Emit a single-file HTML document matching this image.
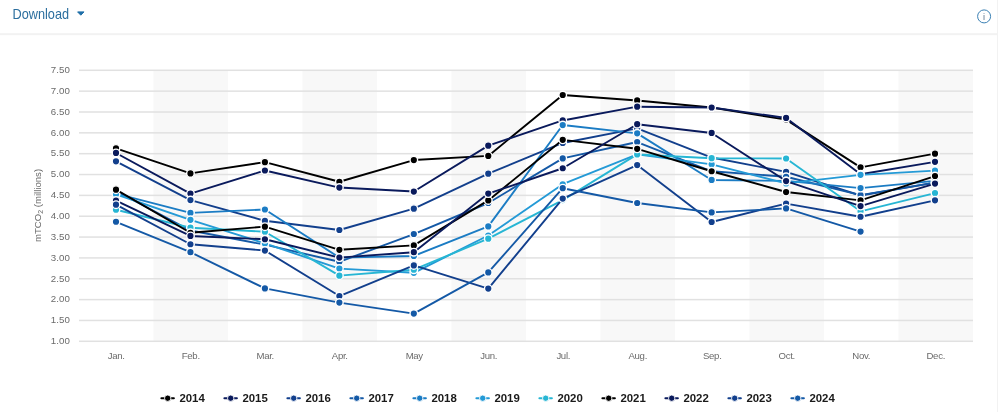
<!DOCTYPE html>
<html><head><meta charset="utf-8"><title>Chart</title>
<style>html,body{margin:0;padding:0;background:#fff;}body{width:1000px;height:412px;overflow:hidden;}svg{display:block;font-family:"Liberation Sans",sans-serif;}</style></head><body>
<svg width="1000" height="412" viewBox="0 0 1000 412">
<rect x="0" y="0" width="1000" height="412" fill="#ffffff"/>
<rect x="0" y="33.2" width="998" height="2" fill="#f2f2f2"/>
<rect x="997" y="0" width="1" height="412" fill="#f2f2f2"/>
<text x="12.5" y="19" font-size="14.3" textLength="56.6" lengthAdjust="spacingAndGlyphs" fill="#2b6e9e">Download</text>
<path d="M77.6 11.9 L84.0 11.9 L80.8 15.2 Z" fill="#1f6fa8" stroke="#1f6fa8" stroke-width="1" stroke-linejoin="round"/>
<circle cx="984.1" cy="16.4" r="6.5" fill="#fff" stroke="#3a80b4" stroke-width="1"/>
<text x="984.1" y="20.4" font-size="9.2" text-anchor="middle" fill="#5f7890">i</text>
<rect x="153.50" y="70.3" width="74.50" height="271.0" fill="#f8f8f8"/>
<rect x="302.50" y="70.3" width="74.50" height="271.0" fill="#f8f8f8"/>
<rect x="451.50" y="70.3" width="74.50" height="271.0" fill="#f8f8f8"/>
<rect x="600.50" y="70.3" width="74.50" height="271.0" fill="#f8f8f8"/>
<rect x="749.50" y="70.3" width="74.50" height="271.0" fill="#f8f8f8"/>
<rect x="898.50" y="70.3" width="74.50" height="271.0" fill="#f8f8f8"/>
<rect x="79.0" y="340.55" width="894.0" height="1.5" fill="#e1e1e1"/>
<text x="70" y="344.10" font-size="9.7" letter-spacing="0.1" text-anchor="end" fill="#6b6b6b">1.00</text>
<rect x="79.0" y="319.70" width="894.0" height="1.5" fill="#e1e1e1"/>
<text x="70" y="323.25" font-size="9.7" letter-spacing="0.1" text-anchor="end" fill="#6b6b6b">1.50</text>
<rect x="79.0" y="298.86" width="894.0" height="1.5" fill="#e1e1e1"/>
<text x="70" y="302.41" font-size="9.7" letter-spacing="0.1" text-anchor="end" fill="#6b6b6b">2.00</text>
<rect x="79.0" y="278.01" width="894.0" height="1.5" fill="#e1e1e1"/>
<text x="70" y="281.56" font-size="9.7" letter-spacing="0.1" text-anchor="end" fill="#6b6b6b">2.50</text>
<rect x="79.0" y="257.17" width="894.0" height="1.5" fill="#e1e1e1"/>
<text x="70" y="260.72" font-size="9.7" letter-spacing="0.1" text-anchor="end" fill="#6b6b6b">3.00</text>
<rect x="79.0" y="236.32" width="894.0" height="1.5" fill="#e1e1e1"/>
<text x="70" y="239.87" font-size="9.7" letter-spacing="0.1" text-anchor="end" fill="#6b6b6b">3.50</text>
<rect x="79.0" y="215.47" width="894.0" height="1.5" fill="#e1e1e1"/>
<text x="70" y="219.02" font-size="9.7" letter-spacing="0.1" text-anchor="end" fill="#6b6b6b">4.00</text>
<rect x="79.0" y="194.63" width="894.0" height="1.5" fill="#e1e1e1"/>
<text x="70" y="198.18" font-size="9.7" letter-spacing="0.1" text-anchor="end" fill="#6b6b6b">4.50</text>
<rect x="79.0" y="173.78" width="894.0" height="1.5" fill="#e1e1e1"/>
<text x="70" y="177.33" font-size="9.7" letter-spacing="0.1" text-anchor="end" fill="#6b6b6b">5.00</text>
<rect x="79.0" y="152.93" width="894.0" height="1.5" fill="#e1e1e1"/>
<text x="70" y="156.48" font-size="9.7" letter-spacing="0.1" text-anchor="end" fill="#6b6b6b">5.50</text>
<rect x="79.0" y="132.09" width="894.0" height="1.5" fill="#e1e1e1"/>
<text x="70" y="135.64" font-size="9.7" letter-spacing="0.1" text-anchor="end" fill="#6b6b6b">6.00</text>
<rect x="79.0" y="111.24" width="894.0" height="1.5" fill="#e1e1e1"/>
<text x="70" y="114.79" font-size="9.7" letter-spacing="0.1" text-anchor="end" fill="#6b6b6b">6.50</text>
<rect x="79.0" y="90.40" width="894.0" height="1.5" fill="#e1e1e1"/>
<text x="70" y="93.95" font-size="9.7" letter-spacing="0.1" text-anchor="end" fill="#6b6b6b">7.00</text>
<rect x="79.0" y="69.55" width="894.0" height="1.5" fill="#e1e1e1"/>
<text x="70" y="73.10" font-size="9.7" letter-spacing="0.1" text-anchor="end" fill="#6b6b6b">7.50</text>
<text transform="translate(41,205.5) rotate(-90)" font-size="9.6" text-anchor="middle" fill="#6b6b6b">mTCO<tspan font-size="7" dy="2">2</tspan><tspan dy="-2"> (millions)</tspan></text>
<text x="116.25" y="359.4" font-size="9.6" letter-spacing="-0.3" text-anchor="middle" fill="#6b6b6b">Jan.</text>
<text x="190.75" y="359.4" font-size="9.6" letter-spacing="-0.3" text-anchor="middle" fill="#6b6b6b">Feb.</text>
<text x="265.25" y="359.4" font-size="9.6" letter-spacing="-0.3" text-anchor="middle" fill="#6b6b6b">Mar.</text>
<text x="339.75" y="359.4" font-size="9.6" letter-spacing="-0.3" text-anchor="middle" fill="#6b6b6b">Apr.</text>
<text x="414.25" y="359.4" font-size="9.6" letter-spacing="-0.3" text-anchor="middle" fill="#6b6b6b">May</text>
<text x="488.75" y="359.4" font-size="9.6" letter-spacing="-0.3" text-anchor="middle" fill="#6b6b6b">Jun.</text>
<text x="563.25" y="359.4" font-size="9.6" letter-spacing="-0.3" text-anchor="middle" fill="#6b6b6b">Jul.</text>
<text x="637.75" y="359.4" font-size="9.6" letter-spacing="-0.3" text-anchor="middle" fill="#6b6b6b">Aug.</text>
<text x="712.25" y="359.4" font-size="9.6" letter-spacing="-0.3" text-anchor="middle" fill="#6b6b6b">Sep.</text>
<text x="786.75" y="359.4" font-size="9.6" letter-spacing="-0.3" text-anchor="middle" fill="#6b6b6b">Oct.</text>
<text x="861.25" y="359.4" font-size="9.6" letter-spacing="-0.3" text-anchor="middle" fill="#6b6b6b">Nov.</text>
<text x="935.75" y="359.4" font-size="9.6" letter-spacing="-0.3" text-anchor="middle" fill="#6b6b6b">Dec.</text>
<g><polyline points="116.00,148.38 190.45,173.40 264.91,162.14 339.37,181.74 413.82,160.06 488.27,155.89 562.73,95.02 637.18,100.44 711.64,107.52 786.10,119.61 860.55,167.35 935.00,153.63" fill="none" stroke="#000000" stroke-width="1.9" stroke-linejoin="round" stroke-linecap="round"/>
<circle cx="116.00" cy="148.38" r="3.8" fill="#000000" stroke="#fff" stroke-width="1.4"/>
<circle cx="190.45" cy="173.40" r="3.8" fill="#000000" stroke="#fff" stroke-width="1.4"/>
<circle cx="264.91" cy="162.14" r="3.8" fill="#000000" stroke="#fff" stroke-width="1.4"/>
<circle cx="339.37" cy="181.74" r="3.8" fill="#000000" stroke="#fff" stroke-width="1.4"/>
<circle cx="413.82" cy="160.06" r="3.8" fill="#000000" stroke="#fff" stroke-width="1.4"/>
<circle cx="488.27" cy="155.89" r="3.8" fill="#000000" stroke="#fff" stroke-width="1.4"/>
<circle cx="562.73" cy="95.02" r="3.8" fill="#000000" stroke="#fff" stroke-width="1.4"/>
<circle cx="637.18" cy="100.44" r="3.8" fill="#000000" stroke="#fff" stroke-width="1.4"/>
<circle cx="711.64" cy="107.52" r="3.8" fill="#000000" stroke="#fff" stroke-width="1.4"/>
<circle cx="786.10" cy="119.61" r="3.8" fill="#000000" stroke="#fff" stroke-width="1.4"/>
<circle cx="860.55" cy="167.35" r="3.8" fill="#000000" stroke="#fff" stroke-width="1.4"/>
<circle cx="935.00" cy="153.63" r="3.8" fill="#000000" stroke="#fff" stroke-width="1.4"/>
</g>
<g><polyline points="116.00,152.97 190.45,193.62 264.91,170.48 339.37,187.57 413.82,191.53 488.27,145.63 562.73,120.45 637.18,106.69 711.64,107.52 786.10,117.95 860.55,174.23 935.00,161.85" fill="none" stroke="#0a1a5c" stroke-width="1.9" stroke-linejoin="round" stroke-linecap="round"/>
<circle cx="116.00" cy="152.97" r="3.8" fill="#0a1a5c" stroke="#fff" stroke-width="1.4"/>
<circle cx="190.45" cy="193.62" r="3.8" fill="#0a1a5c" stroke="#fff" stroke-width="1.4"/>
<circle cx="264.91" cy="170.48" r="3.8" fill="#0a1a5c" stroke="#fff" stroke-width="1.4"/>
<circle cx="339.37" cy="187.57" r="3.8" fill="#0a1a5c" stroke="#fff" stroke-width="1.4"/>
<circle cx="413.82" cy="191.53" r="3.8" fill="#0a1a5c" stroke="#fff" stroke-width="1.4"/>
<circle cx="488.27" cy="145.63" r="3.8" fill="#0a1a5c" stroke="#fff" stroke-width="1.4"/>
<circle cx="562.73" cy="120.45" r="3.8" fill="#0a1a5c" stroke="#fff" stroke-width="1.4"/>
<circle cx="637.18" cy="106.69" r="3.8" fill="#0a1a5c" stroke="#fff" stroke-width="1.4"/>
<circle cx="711.64" cy="107.52" r="3.8" fill="#0a1a5c" stroke="#fff" stroke-width="1.4"/>
<circle cx="786.10" cy="117.95" r="3.8" fill="#0a1a5c" stroke="#fff" stroke-width="1.4"/>
<circle cx="860.55" cy="174.23" r="3.8" fill="#0a1a5c" stroke="#fff" stroke-width="1.4"/>
<circle cx="935.00" cy="161.85" r="3.8" fill="#0a1a5c" stroke="#fff" stroke-width="1.4"/>
</g>
<g><polyline points="116.00,161.31 190.45,200.08 264.91,220.80 339.37,230.02 413.82,208.63 488.27,173.65 562.73,142.96 637.18,128.37 711.64,157.55 786.10,171.85 860.55,195.49 935.00,182.57" fill="none" stroke="#123f8c" stroke-width="1.9" stroke-linejoin="round" stroke-linecap="round"/>
<circle cx="116.00" cy="161.31" r="3.8" fill="#123f8c" stroke="#fff" stroke-width="1.4"/>
<circle cx="190.45" cy="200.08" r="3.8" fill="#123f8c" stroke="#fff" stroke-width="1.4"/>
<circle cx="264.91" cy="220.80" r="3.8" fill="#123f8c" stroke="#fff" stroke-width="1.4"/>
<circle cx="339.37" cy="230.02" r="3.8" fill="#123f8c" stroke="#fff" stroke-width="1.4"/>
<circle cx="413.82" cy="208.63" r="3.8" fill="#123f8c" stroke="#fff" stroke-width="1.4"/>
<circle cx="488.27" cy="173.65" r="3.8" fill="#123f8c" stroke="#fff" stroke-width="1.4"/>
<circle cx="562.73" cy="142.96" r="3.8" fill="#123f8c" stroke="#fff" stroke-width="1.4"/>
<circle cx="637.18" cy="128.37" r="3.8" fill="#123f8c" stroke="#fff" stroke-width="1.4"/>
<circle cx="711.64" cy="157.55" r="3.8" fill="#123f8c" stroke="#fff" stroke-width="1.4"/>
<circle cx="786.10" cy="171.85" r="3.8" fill="#123f8c" stroke="#fff" stroke-width="1.4"/>
<circle cx="860.55" cy="195.49" r="3.8" fill="#123f8c" stroke="#fff" stroke-width="1.4"/>
<circle cx="935.00" cy="182.57" r="3.8" fill="#123f8c" stroke="#fff" stroke-width="1.4"/>
</g>
<g><polyline points="116.00,190.91 190.45,230.52 264.91,244.69 339.37,261.78 413.82,234.02 488.27,203.00 562.73,158.43 637.18,142.04 711.64,171.31 786.10,176.73 860.55,195.08 935.00,182.57" fill="none" stroke="#1459a6" stroke-width="1.9" stroke-linejoin="round" stroke-linecap="round"/>
<circle cx="116.00" cy="190.91" r="3.8" fill="#1459a6" stroke="#fff" stroke-width="1.4"/>
<circle cx="190.45" cy="230.52" r="3.8" fill="#1459a6" stroke="#fff" stroke-width="1.4"/>
<circle cx="264.91" cy="244.69" r="3.8" fill="#1459a6" stroke="#fff" stroke-width="1.4"/>
<circle cx="339.37" cy="261.78" r="3.8" fill="#1459a6" stroke="#fff" stroke-width="1.4"/>
<circle cx="413.82" cy="234.02" r="3.8" fill="#1459a6" stroke="#fff" stroke-width="1.4"/>
<circle cx="488.27" cy="203.00" r="3.8" fill="#1459a6" stroke="#fff" stroke-width="1.4"/>
<circle cx="562.73" cy="158.43" r="3.8" fill="#1459a6" stroke="#fff" stroke-width="1.4"/>
<circle cx="637.18" cy="142.04" r="3.8" fill="#1459a6" stroke="#fff" stroke-width="1.4"/>
<circle cx="711.64" cy="171.31" r="3.8" fill="#1459a6" stroke="#fff" stroke-width="1.4"/>
<circle cx="786.10" cy="176.73" r="3.8" fill="#1459a6" stroke="#fff" stroke-width="1.4"/>
<circle cx="860.55" cy="195.08" r="3.8" fill="#1459a6" stroke="#fff" stroke-width="1.4"/>
<circle cx="935.00" cy="182.57" r="3.8" fill="#1459a6" stroke="#fff" stroke-width="1.4"/>
</g>
<g><polyline points="116.00,193.62 190.45,212.92 264.91,209.50 339.37,257.62 413.82,255.95 488.27,226.43 562.73,125.03 637.18,133.37 711.64,179.94 786.10,180.90 860.55,188.11 935.00,180.90" fill="none" stroke="#1b7cc4" stroke-width="1.9" stroke-linejoin="round" stroke-linecap="round"/>
<circle cx="116.00" cy="193.62" r="3.8" fill="#1b7cc4" stroke="#fff" stroke-width="1.4"/>
<circle cx="190.45" cy="212.92" r="3.8" fill="#1b7cc4" stroke="#fff" stroke-width="1.4"/>
<circle cx="264.91" cy="209.50" r="3.8" fill="#1b7cc4" stroke="#fff" stroke-width="1.4"/>
<circle cx="339.37" cy="257.62" r="3.8" fill="#1b7cc4" stroke="#fff" stroke-width="1.4"/>
<circle cx="413.82" cy="255.95" r="3.8" fill="#1b7cc4" stroke="#fff" stroke-width="1.4"/>
<circle cx="488.27" cy="226.43" r="3.8" fill="#1b7cc4" stroke="#fff" stroke-width="1.4"/>
<circle cx="562.73" cy="125.03" r="3.8" fill="#1b7cc4" stroke="#fff" stroke-width="1.4"/>
<circle cx="637.18" cy="133.37" r="3.8" fill="#1b7cc4" stroke="#fff" stroke-width="1.4"/>
<circle cx="711.64" cy="179.94" r="3.8" fill="#1b7cc4" stroke="#fff" stroke-width="1.4"/>
<circle cx="786.10" cy="180.90" r="3.8" fill="#1b7cc4" stroke="#fff" stroke-width="1.4"/>
<circle cx="860.55" cy="188.11" r="3.8" fill="#1b7cc4" stroke="#fff" stroke-width="1.4"/>
<circle cx="935.00" cy="180.90" r="3.8" fill="#1b7cc4" stroke="#fff" stroke-width="1.4"/>
</g>
<g><polyline points="116.00,194.24 190.45,219.84 264.91,243.44 339.37,268.62 413.82,272.79 488.27,235.52 562.73,184.24 637.18,154.43 711.64,164.35 786.10,183.40 860.55,174.86 935.00,170.60" fill="none" stroke="#249ad6" stroke-width="1.9" stroke-linejoin="round" stroke-linecap="round"/>
<circle cx="116.00" cy="194.24" r="3.8" fill="#249ad6" stroke="#fff" stroke-width="1.4"/>
<circle cx="190.45" cy="219.84" r="3.8" fill="#249ad6" stroke="#fff" stroke-width="1.4"/>
<circle cx="264.91" cy="243.44" r="3.8" fill="#249ad6" stroke="#fff" stroke-width="1.4"/>
<circle cx="339.37" cy="268.62" r="3.8" fill="#249ad6" stroke="#fff" stroke-width="1.4"/>
<circle cx="413.82" cy="272.79" r="3.8" fill="#249ad6" stroke="#fff" stroke-width="1.4"/>
<circle cx="488.27" cy="235.52" r="3.8" fill="#249ad6" stroke="#fff" stroke-width="1.4"/>
<circle cx="562.73" cy="184.24" r="3.8" fill="#249ad6" stroke="#fff" stroke-width="1.4"/>
<circle cx="637.18" cy="154.43" r="3.8" fill="#249ad6" stroke="#fff" stroke-width="1.4"/>
<circle cx="711.64" cy="164.35" r="3.8" fill="#249ad6" stroke="#fff" stroke-width="1.4"/>
<circle cx="786.10" cy="183.40" r="3.8" fill="#249ad6" stroke="#fff" stroke-width="1.4"/>
<circle cx="860.55" cy="174.86" r="3.8" fill="#249ad6" stroke="#fff" stroke-width="1.4"/>
<circle cx="935.00" cy="170.60" r="3.8" fill="#249ad6" stroke="#fff" stroke-width="1.4"/>
</g>
<g><polyline points="116.00,209.75 190.45,227.72 264.91,231.72 339.37,275.63 413.82,269.71 488.27,238.65 562.73,200.08 637.18,154.43 711.64,158.22 786.10,158.51 860.55,211.34 935.00,193.08" fill="none" stroke="#27b6d4" stroke-width="1.9" stroke-linejoin="round" stroke-linecap="round"/>
<circle cx="116.00" cy="209.75" r="3.8" fill="#27b6d4" stroke="#fff" stroke-width="1.4"/>
<circle cx="190.45" cy="227.72" r="3.8" fill="#27b6d4" stroke="#fff" stroke-width="1.4"/>
<circle cx="264.91" cy="231.72" r="3.8" fill="#27b6d4" stroke="#fff" stroke-width="1.4"/>
<circle cx="339.37" cy="275.63" r="3.8" fill="#27b6d4" stroke="#fff" stroke-width="1.4"/>
<circle cx="413.82" cy="269.71" r="3.8" fill="#27b6d4" stroke="#fff" stroke-width="1.4"/>
<circle cx="488.27" cy="238.65" r="3.8" fill="#27b6d4" stroke="#fff" stroke-width="1.4"/>
<circle cx="562.73" cy="200.08" r="3.8" fill="#27b6d4" stroke="#fff" stroke-width="1.4"/>
<circle cx="637.18" cy="154.43" r="3.8" fill="#27b6d4" stroke="#fff" stroke-width="1.4"/>
<circle cx="711.64" cy="158.22" r="3.8" fill="#27b6d4" stroke="#fff" stroke-width="1.4"/>
<circle cx="786.10" cy="158.51" r="3.8" fill="#27b6d4" stroke="#fff" stroke-width="1.4"/>
<circle cx="860.55" cy="211.34" r="3.8" fill="#27b6d4" stroke="#fff" stroke-width="1.4"/>
<circle cx="935.00" cy="193.08" r="3.8" fill="#27b6d4" stroke="#fff" stroke-width="1.4"/>
</g>
<g><polyline points="116.00,189.66 190.45,232.73 264.91,226.64 339.37,249.82 413.82,245.40 488.27,200.41 562.73,139.83 637.18,148.80 711.64,171.23 786.10,192.03 860.55,200.37 935.00,176.07" fill="none" stroke="#000000" stroke-width="1.9" stroke-linejoin="round" stroke-linecap="round"/>
<circle cx="116.00" cy="189.66" r="3.8" fill="#000000" stroke="#fff" stroke-width="1.4"/>
<circle cx="190.45" cy="232.73" r="3.8" fill="#000000" stroke="#fff" stroke-width="1.4"/>
<circle cx="264.91" cy="226.64" r="3.8" fill="#000000" stroke="#fff" stroke-width="1.4"/>
<circle cx="339.37" cy="249.82" r="3.8" fill="#000000" stroke="#fff" stroke-width="1.4"/>
<circle cx="413.82" cy="245.40" r="3.8" fill="#000000" stroke="#fff" stroke-width="1.4"/>
<circle cx="488.27" cy="200.41" r="3.8" fill="#000000" stroke="#fff" stroke-width="1.4"/>
<circle cx="562.73" cy="139.83" r="3.8" fill="#000000" stroke="#fff" stroke-width="1.4"/>
<circle cx="637.18" cy="148.80" r="3.8" fill="#000000" stroke="#fff" stroke-width="1.4"/>
<circle cx="711.64" cy="171.23" r="3.8" fill="#000000" stroke="#fff" stroke-width="1.4"/>
<circle cx="786.10" cy="192.03" r="3.8" fill="#000000" stroke="#fff" stroke-width="1.4"/>
<circle cx="860.55" cy="200.37" r="3.8" fill="#000000" stroke="#fff" stroke-width="1.4"/>
<circle cx="935.00" cy="176.07" r="3.8" fill="#000000" stroke="#fff" stroke-width="1.4"/>
</g>
<g><polyline points="116.00,200.62 190.45,235.94 264.91,239.23 339.37,257.62 413.82,252.20 488.27,193.62 562.73,168.23 637.18,124.20 711.64,132.96 786.10,181.03 860.55,206.04 935.00,183.61" fill="none" stroke="#0a1a5c" stroke-width="1.9" stroke-linejoin="round" stroke-linecap="round"/>
<circle cx="116.00" cy="200.62" r="3.8" fill="#0a1a5c" stroke="#fff" stroke-width="1.4"/>
<circle cx="190.45" cy="235.94" r="3.8" fill="#0a1a5c" stroke="#fff" stroke-width="1.4"/>
<circle cx="264.91" cy="239.23" r="3.8" fill="#0a1a5c" stroke="#fff" stroke-width="1.4"/>
<circle cx="339.37" cy="257.62" r="3.8" fill="#0a1a5c" stroke="#fff" stroke-width="1.4"/>
<circle cx="413.82" cy="252.20" r="3.8" fill="#0a1a5c" stroke="#fff" stroke-width="1.4"/>
<circle cx="488.27" cy="193.62" r="3.8" fill="#0a1a5c" stroke="#fff" stroke-width="1.4"/>
<circle cx="562.73" cy="168.23" r="3.8" fill="#0a1a5c" stroke="#fff" stroke-width="1.4"/>
<circle cx="637.18" cy="124.20" r="3.8" fill="#0a1a5c" stroke="#fff" stroke-width="1.4"/>
<circle cx="711.64" cy="132.96" r="3.8" fill="#0a1a5c" stroke="#fff" stroke-width="1.4"/>
<circle cx="786.10" cy="181.03" r="3.8" fill="#0a1a5c" stroke="#fff" stroke-width="1.4"/>
<circle cx="860.55" cy="206.04" r="3.8" fill="#0a1a5c" stroke="#fff" stroke-width="1.4"/>
<circle cx="935.00" cy="183.61" r="3.8" fill="#0a1a5c" stroke="#fff" stroke-width="1.4"/>
</g>
<g><polyline points="116.00,204.67 190.45,244.27 264.91,250.53 339.37,296.01 413.82,265.41 488.27,288.59 562.73,198.62 637.18,165.06 711.64,222.01 786.10,203.62 860.55,216.76 935.00,200.37" fill="none" stroke="#123f8c" stroke-width="1.9" stroke-linejoin="round" stroke-linecap="round"/>
<circle cx="116.00" cy="204.67" r="3.8" fill="#123f8c" stroke="#fff" stroke-width="1.4"/>
<circle cx="190.45" cy="244.27" r="3.8" fill="#123f8c" stroke="#fff" stroke-width="1.4"/>
<circle cx="264.91" cy="250.53" r="3.8" fill="#123f8c" stroke="#fff" stroke-width="1.4"/>
<circle cx="339.37" cy="296.01" r="3.8" fill="#123f8c" stroke="#fff" stroke-width="1.4"/>
<circle cx="413.82" cy="265.41" r="3.8" fill="#123f8c" stroke="#fff" stroke-width="1.4"/>
<circle cx="488.27" cy="288.59" r="3.8" fill="#123f8c" stroke="#fff" stroke-width="1.4"/>
<circle cx="562.73" cy="198.62" r="3.8" fill="#123f8c" stroke="#fff" stroke-width="1.4"/>
<circle cx="637.18" cy="165.06" r="3.8" fill="#123f8c" stroke="#fff" stroke-width="1.4"/>
<circle cx="711.64" cy="222.01" r="3.8" fill="#123f8c" stroke="#fff" stroke-width="1.4"/>
<circle cx="786.10" cy="203.62" r="3.8" fill="#123f8c" stroke="#fff" stroke-width="1.4"/>
<circle cx="860.55" cy="216.76" r="3.8" fill="#123f8c" stroke="#fff" stroke-width="1.4"/>
<circle cx="935.00" cy="200.37" r="3.8" fill="#123f8c" stroke="#fff" stroke-width="1.4"/>
</g>
<g><polyline points="116.00,221.76 190.45,252.20 264.91,288.43 339.37,302.60 413.82,313.61 488.27,272.42 562.73,188.20 637.18,203.00 711.64,212.42 786.10,208.42 860.55,231.56" fill="none" stroke="#1459a6" stroke-width="1.9" stroke-linejoin="round" stroke-linecap="round"/>
<circle cx="116.00" cy="221.76" r="3.8" fill="#1459a6" stroke="#fff" stroke-width="1.4"/>
<circle cx="190.45" cy="252.20" r="3.8" fill="#1459a6" stroke="#fff" stroke-width="1.4"/>
<circle cx="264.91" cy="288.43" r="3.8" fill="#1459a6" stroke="#fff" stroke-width="1.4"/>
<circle cx="339.37" cy="302.60" r="3.8" fill="#1459a6" stroke="#fff" stroke-width="1.4"/>
<circle cx="413.82" cy="313.61" r="3.8" fill="#1459a6" stroke="#fff" stroke-width="1.4"/>
<circle cx="488.27" cy="272.42" r="3.8" fill="#1459a6" stroke="#fff" stroke-width="1.4"/>
<circle cx="562.73" cy="188.20" r="3.8" fill="#1459a6" stroke="#fff" stroke-width="1.4"/>
<circle cx="637.18" cy="203.00" r="3.8" fill="#1459a6" stroke="#fff" stroke-width="1.4"/>
<circle cx="711.64" cy="212.42" r="3.8" fill="#1459a6" stroke="#fff" stroke-width="1.4"/>
<circle cx="786.10" cy="208.42" r="3.8" fill="#1459a6" stroke="#fff" stroke-width="1.4"/>
<circle cx="860.55" cy="231.56" r="3.8" fill="#1459a6" stroke="#fff" stroke-width="1.4"/>
</g>
<g><path d="M161.4 398.2 L173.9 398.2" stroke="#000000" stroke-width="2" stroke-linecap="round"/>
<circle cx="167.7" cy="398.2" r="3.2" fill="#000000" stroke="#fff" stroke-width="0.9"/>
<text x="179.4" y="401.8" font-size="10" font-weight="bold" textLength="25.4" lengthAdjust="spacingAndGlyphs" fill="#1a1a1a">2014</text></g>
<g><path d="M224.4 398.2 L236.9 398.2" stroke="#0a1a5c" stroke-width="2" stroke-linecap="round"/>
<circle cx="230.7" cy="398.2" r="3.2" fill="#0a1a5c" stroke="#fff" stroke-width="0.9"/>
<text x="242.4" y="401.8" font-size="10" font-weight="bold" textLength="25.4" lengthAdjust="spacingAndGlyphs" fill="#1a1a1a">2015</text></g>
<g><path d="M287.4 398.2 L299.9 398.2" stroke="#123f8c" stroke-width="2" stroke-linecap="round"/>
<circle cx="293.7" cy="398.2" r="3.2" fill="#123f8c" stroke="#fff" stroke-width="0.9"/>
<text x="305.4" y="401.8" font-size="10" font-weight="bold" textLength="25.4" lengthAdjust="spacingAndGlyphs" fill="#1a1a1a">2016</text></g>
<g><path d="M350.4 398.2 L362.9 398.2" stroke="#1459a6" stroke-width="2" stroke-linecap="round"/>
<circle cx="356.7" cy="398.2" r="3.2" fill="#1459a6" stroke="#fff" stroke-width="0.9"/>
<text x="368.4" y="401.8" font-size="10" font-weight="bold" textLength="25.4" lengthAdjust="spacingAndGlyphs" fill="#1a1a1a">2017</text></g>
<g><path d="M413.4 398.2 L425.9 398.2" stroke="#1b7cc4" stroke-width="2" stroke-linecap="round"/>
<circle cx="419.7" cy="398.2" r="3.2" fill="#1b7cc4" stroke="#fff" stroke-width="0.9"/>
<text x="431.4" y="401.8" font-size="10" font-weight="bold" textLength="25.4" lengthAdjust="spacingAndGlyphs" fill="#1a1a1a">2018</text></g>
<g><path d="M476.4 398.2 L488.9 398.2" stroke="#249ad6" stroke-width="2" stroke-linecap="round"/>
<circle cx="482.7" cy="398.2" r="3.2" fill="#249ad6" stroke="#fff" stroke-width="0.9"/>
<text x="494.4" y="401.8" font-size="10" font-weight="bold" textLength="25.4" lengthAdjust="spacingAndGlyphs" fill="#1a1a1a">2019</text></g>
<g><path d="M539.4 398.2 L551.9 398.2" stroke="#27b6d4" stroke-width="2" stroke-linecap="round"/>
<circle cx="545.7" cy="398.2" r="3.2" fill="#27b6d4" stroke="#fff" stroke-width="0.9"/>
<text x="557.4" y="401.8" font-size="10" font-weight="bold" textLength="25.4" lengthAdjust="spacingAndGlyphs" fill="#1a1a1a">2020</text></g>
<g><path d="M602.4 398.2 L614.9 398.2" stroke="#000000" stroke-width="2" stroke-linecap="round"/>
<circle cx="608.7" cy="398.2" r="3.2" fill="#000000" stroke="#fff" stroke-width="0.9"/>
<text x="620.4" y="401.8" font-size="10" font-weight="bold" textLength="25.4" lengthAdjust="spacingAndGlyphs" fill="#1a1a1a">2021</text></g>
<g><path d="M665.4 398.2 L677.9 398.2" stroke="#0a1a5c" stroke-width="2" stroke-linecap="round"/>
<circle cx="671.7" cy="398.2" r="3.2" fill="#0a1a5c" stroke="#fff" stroke-width="0.9"/>
<text x="683.4" y="401.8" font-size="10" font-weight="bold" textLength="25.4" lengthAdjust="spacingAndGlyphs" fill="#1a1a1a">2022</text></g>
<g><path d="M728.4 398.2 L740.9 398.2" stroke="#123f8c" stroke-width="2" stroke-linecap="round"/>
<circle cx="734.7" cy="398.2" r="3.2" fill="#123f8c" stroke="#fff" stroke-width="0.9"/>
<text x="746.4" y="401.8" font-size="10" font-weight="bold" textLength="25.4" lengthAdjust="spacingAndGlyphs" fill="#1a1a1a">2023</text></g>
<g><path d="M791.4 398.2 L803.9 398.2" stroke="#1459a6" stroke-width="2" stroke-linecap="round"/>
<circle cx="797.7" cy="398.2" r="3.2" fill="#1459a6" stroke="#fff" stroke-width="0.9"/>
<text x="809.4" y="401.8" font-size="10" font-weight="bold" textLength="25.4" lengthAdjust="spacingAndGlyphs" fill="#1a1a1a">2024</text></g>
</svg></body></html>
